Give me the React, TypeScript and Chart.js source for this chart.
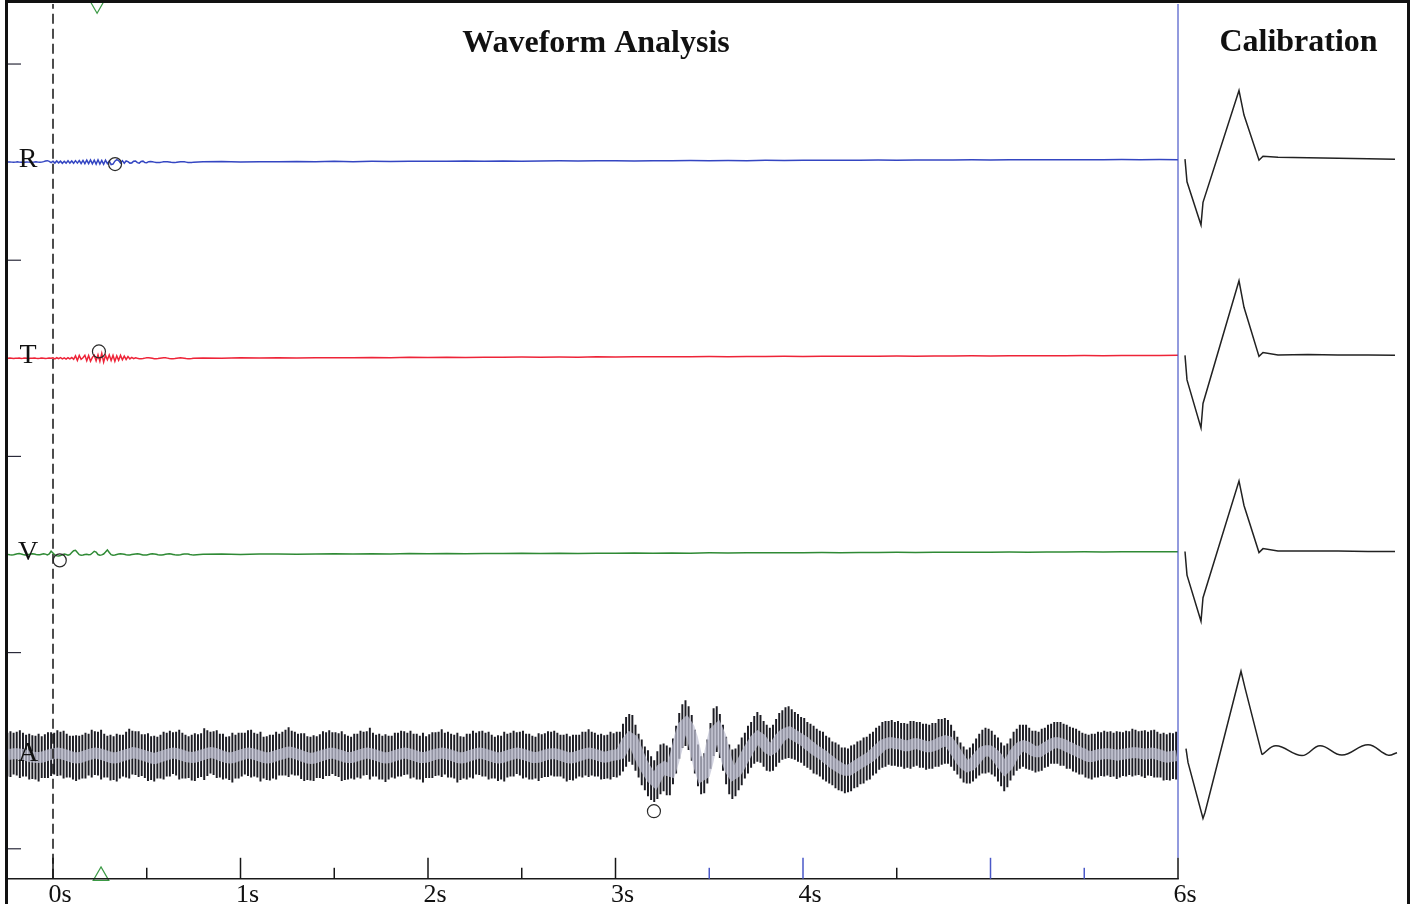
import React, { useEffect, useRef } from "react";
import { Chart, registerables } from "chart.js";

Chart.register(...registerables);

// ---------- axes ----------
const timeMin = -0.24;
const timeMax = 6;
const timeAxisMax = 7.2213; // right edge of calibration panel on the time axis
const calAxisMin = -1170;
const calAxisMax = 229;
const yMin = -3.06;
const yMax = 86.12;
const xTickValues = [0, 1, 2, 3, 4, 6];
const xTickLabels = ["0s", "1s", "2s", "3s", "4s", "6s"];
const majorTickValues = [0, 1, 2, 3, 4, 5, 6];
const minorTickValues = [0.5, 1.5, 2.5, 3.5, 4.5, 5.5];
const yTickValues = [0, 20, 40, 60, 80];
const mainTitle = "Waveform Analysis";
const calTitle = "Calibration";

// ---------- channels ----------
const channelNames = ["R", "T", "V", "A"];
const channelOffsets = [70, 50, 30, 9.5];

// ---------- R / T / V traces ----------
const traceFineStart = -0.24;
const traceFineStep = 0.01;
const traceCoarseStart = 0.8;
const traceCoarseStep = 0.1;

const rFine = [
  0, 0.02, 0, -0.02, 0, 0.03, 0, -0.02, 0.01, 0,
  0.02, 0, -0.02, 0, 0.01, 0.03, 0, -0.02, 0, 0.05,
  0.12, 0.15, 0.08, -0.05, 0.1, -0.1, 0.12, -0.08, 0.1, -0.12,
  0.08, -0.1, 0.14, -0.1, 0.12, -0.12, 0.15, -0.1, 0.16, -0.14,
  0.18, -0.15, 0.2, -0.16, 0.22, -0.18, 0.2, -0.2, 0.24, -0.2,
  0.18, -0.22, 0.2, -0.15, 0.1, -0.25, -0.2, 0.1, 0.25, 0.15,
  -0.1, 0.15, -0.12, 0.12, 0.05, -0.1, -0.08, 0.1, 0.12, -0.05,
  -0.1, 0.06, 0.1, -0.04, -0.06, 0.05, 0.06, 0.04, 0.0, -0.04,
  -0.05, -0.03, 0.0, 0.03, 0.05, 0.05, 0.02, -0.02, -0.04, -0.05,
  -0.02, 0.01, 0.04, 0.05, 0.03, 0.0, -0.03, -0.04, -0.03, 0.0,
];
const rCoarse = [
  0.03, 0.06, 0.02, 0.05, 0.04, 0.07, 0.04, 0.08, 0.05, 0.08,
  0.07, 0.09, 0.1, 0.08, 0.11, 0.09, 0.12, 0.1, 0.12, 0.13,
  0.11, 0.13, 0.14, 0.12, 0.15, 0.13, 0.16, 0.15, 0.17, 0.15,
  0.18, 0.17, 0.19, 0.18, 0.2, 0.19, 0.21, 0.2, 0.21, 0.22,
  0.21, 0.23, 0.22, 0.23, 0.24, 0.23, 0.25, 0.24, 0.25, 0.26,
  0.24, 0.26, 0.25,
];
const tFine = [
  0, 0.02, 0, -0.02, 0.01, 0, 0.02, -0.01, 0, 0.02,
  0, -0.02, 0, 0.01, 0.02, 0, -0.01, 0, 0.02, 0,
  -0.02, 0, 0.03, 0, 0.05, -0.05, 0.06, -0.04, 0.07, -0.06,
  0.05, -0.08, 0.06, -0.05, 0.08, -0.1, 0.25, -0.22, 0.3, -0.1,
  0.05, 0.3, -0.25, 0.28, -0.3, 0.1, 0.32, -0.25, 0.35, -0.3,
  0.5, -0.38, 0.3, -0.15, 0.35, -0.22, 0.3, -0.3, 0.25, -0.2,
  0.3, -0.15, 0.22, -0.12, 0.18, -0.06, 0.1, -0.04, 0.05, 0.0,
  -0.04, -0.05, -0.02, 0.02, 0.05, 0.06, 0.04, 0.0, -0.04, -0.05,
  -0.03, 0.0, 0.03, 0.05, 0.05, 0.02, -0.02, -0.04, -0.04, -0.02,
  0.01, 0.03, 0.05, 0.04, 0.01, -0.02, -0.04, -0.05, -0.03, 0.0,
];
const tCoarse = [
  0.04, 0.0, 0.05, 0.02, 0.06, 0.03, 0.07, 0.05, 0.06, 0.09,
  0.07, 0.1, 0.08, 0.11, 0.09, 0.12, 0.1, 0.13, 0.12, 0.14,
  0.12, 0.15, 0.13, 0.16, 0.15, 0.17, 0.16, 0.18, 0.17, 0.19,
  0.18, 0.2, 0.19, 0.21, 0.2, 0.22, 0.21, 0.23, 0.22, 0.24,
  0.23, 0.25, 0.24, 0.26, 0.25, 0.27, 0.26, 0.28, 0.27, 0.28,
  0.29, 0.28, 0.3,
];
const vFine = [
  0.0, -0.03, -0.05, -0.02, 0.03, 0.08, 0.1, 0.06, 0.0, -0.05,
  -0.04, 0.0, 0.04, 0.07, 0.05, 0.0, -0.03, -0.02, 0.03, 0.07,
  0.04, -0.04, 0.05, 0.33, 0.15, -0.05, -0.12, -0.14, -0.1, -0.02,
  0.05, 0.0, -0.06, 0.0, 0.2, 0.38, 0.42, 0.2, -0.02, -0.08,
  -0.05, 0.0, 0.02, -0.02, 0.0, 0.15, 0.33, 0.25, 0.0, -0.07,
  -0.04, 0.05, 0.25, 0.47, 0.2, -0.02, -0.08, -0.05, 0.0, 0.04,
  0.07, 0.06, 0.02, -0.03, -0.06, -0.05, -0.01, 0.03, 0.06, 0.07,
  0.04, 0.0, -0.04, -0.06, -0.04, 0.0, 0.04, 0.07, 0.06, 0.02,
  -0.03, -0.06, -0.06, -0.02, 0.02, 0.05, 0.07, 0.05, 0.01, -0.03,
  -0.05, -0.05, -0.02, 0.02, 0.05, 0.06, 0.04, 0.0, -0.03, -0.05,
];
const vCoarse = [
  0.02, 0.05, 0.0, 0.04, 0.06, 0.02, 0.05, 0.07, 0.04, 0.08,
  0.06, 0.09, 0.07, 0.1, 0.08, 0.11, 0.09, 0.12, 0.1, 0.13,
  0.11, 0.14, 0.12, 0.15, 0.13, 0.16, 0.14, 0.17, 0.16, 0.18,
  0.17, 0.19, 0.18, 0.2, 0.19, 0.21, 0.2, 0.22, 0.21, 0.23,
  0.22, 0.24, 0.23, 0.25, 0.24, 0.26, 0.25, 0.27, 0.26, 0.27,
  0.27, 0.28, 0.28,
];

// ---------- A channel: one stripe per 60 Hz cycle ----------
const stripeStart = -0.24;
const stripeRate = 60;
const aCentre = [
  0.1, 0.15, 0.2, 0.2, 0.15, 0.1, 0.0, -0.1, -0.15, -0.2, -0.2, -0.15, -0.05, 0.05, 0.15, 0.2, 0.25, 0.2, 0.1, 0.0, -0.1, -0.2, -0.25, -0.2, -0.1,
  0.0, 0.1, 0.2, 0.25, 0.2, 0.1, 0.0, -0.1, -0.2, -0.25, -0.2, -0.1, 0.0, 0.1, 0.2, 0.3, 0.25, 0.15, 0.05, -0.05, -0.15, -0.25, -0.3, -0.2, -0.1,
  0.0, 0.1, 0.2, 0.25, 0.2, 0.1, 0.0, -0.1, -0.15, -0.2, -0.15, -0.05, 0.05, 0.15, 0.25, 0.3, 0.25, 0.15, 0.0, -0.1, -0.2, -0.25, -0.2, -0.1, 0.0,
  0.1, 0.2, 0.25, 0.2, 0.1, 0.0, -0.1, -0.2, -0.25, -0.2, -0.1, 0.0, 0.1, 0.2, 0.3, 0.35, 0.3, 0.2, 0.1, -0.05, -0.15, -0.25, -0.3, -0.25, -0.15,
  -0.05, 0.05, 0.15, 0.25, 0.25, 0.15, 0.05, -0.05, -0.15, -0.2, -0.2, -0.1, 0.0, 0.1, 0.2, 0.25, 0.2, 0.1, 0.0, -0.1, -0.2, -0.25, -0.2, -0.1, 0.0,
  0.1, 0.2, 0.25, 0.2, 0.1, 0.0, -0.1, -0.2, -0.2, -0.15, -0.05, 0.05, 0.15, 0.2, 0.25, 0.2, 0.1, 0.0, -0.1, -0.2, -0.25, -0.2, -0.1, 0.0, 0.1,
  0.2, 0.25, 0.2, 0.1, 0.0, -0.1, -0.2, -0.25, -0.2, -0.1, 0.0, 0.1, 0.2, 0.25, 0.2, 0.1, 0.0, -0.1, -0.2, -0.2, -0.15, -0.05, 0.05, 0.15, 0.2,
  0.2, 0.1, 0.0, -0.1, -0.2, -0.25, -0.2, -0.1, 0.0, 0.1, 0.2, 0.25, 0.2, 0.1, 0.0, -0.1, -0.15, -0.1, 0.0, 0.05, 0.1, 0.2, 0.8, 1.4, 1.8,
  1.6, 0.8, 0.0, -0.7, -1.3, -1.8, -2.3, -2.6, -2.0, -1.4, -1.2, -1.5, -1.6, -0.6, 0.6, 2.0, 3.0, 3.3, 2.8, 1.8, 0.4, -1.0, -2.0, -1.8, -0.6,
  1.0, 2.4, 2.7, 2.0, 0.8, -0.5, -1.4, -1.9, -1.7, -1.2, -0.6, 0.0, 0.6, 1.1, 1.6, 1.9, 1.7, 1.2, 0.8, 0.6, 0.8, 1.3, 1.8, 2.1, 2.3,
  2.4, 2.2, 2.0, 1.8, 1.6, 1.4, 1.1, 0.9, 0.6, 0.4, 0.2, 0.0, -0.3, -0.5, -0.8, -1.0, -1.2, -1.4, -1.5, -1.5, -1.3, -1.1, -0.9, -0.7, -0.5,
  -0.3, -0.1, 0.2, 0.5, 0.8, 1.1, 1.2, 1.3, 1.3, 1.2, 1.2, 1.1, 1.0, 1.0, 1.1, 1.2, 1.2, 1.1, 1.0, 0.9, 0.9, 1.0, 1.1, 1.3, 1.4,
  1.5, 1.4, 1.0, 0.5, 0.0, -0.5, -0.9, -1.1, -1.0, -0.7, -0.3, 0.1, 0.4, 0.5, 0.5, 0.3, 0.0, -0.4, -0.9, -1.3, -1.0, -0.4, 0.2, 0.6, 0.9,
  1.0, 0.9, 0.7, 0.5, 0.4, 0.4, 0.6, 0.8, 1.0, 1.2, 1.3, 1.3, 1.2, 1.1, 0.9, 0.8, 0.6, 0.5, 0.3, 0.2, 0.0, -0.1, -0.1, 0.0, 0.1,
  0.15, 0.2, 0.2, 0.15, 0.1, 0.05, 0.1, 0.15, 0.2, 0.25, 0.3, 0.3, 0.25, 0.2, 0.15, 0.2, 0.25, 0.2, 0.1, 0.0, -0.1, -0.15, -0.1, -0.05, 0.0,
];
const aHalf = [
  2.2, 2.3, 2.1, 2.2, 2.4, 2.2, 2.1, 2.3, 2.2, 2.2, 2.4, 2.1, 2.2, 2.3, 2.2, 2.1, 2.3, 2.2, 2.4, 2.2, 2.1, 2.2, 2.3, 2.2, 2.2,
  2.3, 2.1, 2.4, 2.2, 2.2, 2.5, 2.2, 2.1, 2.3, 2.2, 2.4, 2.2, 2.1, 2.3, 2.5, 2.2, 2.2, 2.3, 2.1, 2.2, 2.4, 2.2, 2.3, 2.1, 2.2,
  2.4, 2.2, 2.3, 2.1, 2.2, 2.5, 2.3, 2.2, 2.1, 2.3, 2.4, 2.2, 2.2, 2.6, 2.3, 2.1, 2.2, 2.4, 2.2, 2.3, 2.1, 2.2, 2.5, 2.2, 2.3,
  2.2, 2.1, 2.3, 2.4, 2.2, 2.2, 2.5, 2.1, 2.2, 2.3, 2.2, 2.4, 2.1, 2.2, 2.3, 2.5, 2.2, 2.2, 2.1, 2.3, 2.4, 2.2, 2.2, 2.3, 2.1,
  2.2, 2.4, 2.2, 2.3, 2.1, 2.2, 2.2, 2.5, 2.3, 2.2, 2.1, 2.3, 2.2, 2.4, 2.2, 2.2, 2.6, 2.2, 2.1, 2.3, 2.2, 2.4, 2.2, 2.1, 2.3,
  2.2, 2.3, 2.2, 2.1, 2.4, 2.2, 2.3, 2.2, 2.5, 2.1, 2.2, 2.3, 2.2, 2.2, 2.4, 2.1, 2.3, 2.2, 2.2, 2.5, 2.2, 2.1, 2.3, 2.2, 2.4,
  2.1, 2.2, 2.3, 2.2, 2.4, 2.2, 2.1, 2.3, 2.2, 2.5, 2.2, 2.2, 2.3, 2.1, 2.2, 2.4, 2.2, 2.3, 2.2, 2.1, 2.4, 2.2, 2.2, 2.3, 2.2,
  2.3, 2.2, 2.1, 2.2, 2.4, 2.2, 2.3, 2.2, 2.1, 2.3, 2.2, 2.4, 2.2, 2.2, 2.1, 2.3, 2.2, 2.2, 2.4, 2.2, 2.3, 2.2, 2.4, 2.5, 2.4,
  2.5, 2.3, 2.2, 2.3, 2.2, 2.3, 2.2, 2.1, 2.4, 2.5, 2.4, 2.5, 2.4, 2.3, 2.4, 2.3, 2.2, 2.3, 2.2, 2.3, 2.2, 2.1, 1.9, 2.0, 2.2,
  2.3, 2.4, 2.3, 2.2, 2.3, 2.4, 2.5, 2.5, 2.4, 2.3, 2.4, 2.3, 2.4, 2.3, 2.4, 2.5, 2.4, 2.3, 2.3, 2.2, 2.3, 2.4, 2.5, 2.5, 2.6,
  2.6, 2.5, 2.4, 2.4, 2.3, 2.4, 2.3, 2.3, 2.4, 2.3, 2.3, 2.4, 2.3, 2.3, 2.2, 2.3, 2.3, 2.2, 2.3, 2.2, 2.3, 2.2, 2.3, 2.2, 2.3,
  2.2, 2.3, 2.2, 2.3, 2.2, 2.3, 2.3, 2.2, 2.3, 2.2, 2.3, 2.2, 2.3, 2.2, 2.4, 2.3, 2.2, 2.3, 2.2, 2.3, 2.2, 2.3, 2.2, 2.4, 2.3,
  2.3, 2.2, 2.1, 2.0, 1.9, 1.8, 1.8, 1.7, 1.8, 1.9, 2.0, 2.1, 2.2, 2.3, 2.2, 2.2, 2.1, 2.2, 2.2, 2.3, 2.2, 2.1, 2.2, 2.1, 2.2,
  2.1, 2.2, 2.1, 2.0, 2.1, 2.0, 2.1, 2.0, 2.1, 2.0, 2.1, 2.1, 2.2, 2.1, 2.2, 2.1, 2.2, 2.2, 2.2, 2.1, 2.2, 2.2, 2.3, 2.2, 2.3,
  2.2, 2.3, 2.2, 2.3, 2.2, 2.4, 2.3, 2.2, 2.3, 2.2, 2.4, 2.3, 2.2, 2.3, 2.4, 2.2, 2.3, 2.4, 2.3, 2.2, 2.4, 2.3, 2.4, 2.3, 2.4,
];

// ---------- event markers ----------
const circleTimes = [0.331, 0.245, 0.036, 3.205];
const circleValues = [69.8, 50.7, 29.4, 3.83];
const triggerTimes = [0.235, 0.256];
const triggerValues = [86.1, -2.76];
const triggerRotations = [180, 0];

// ---------- calibration pulses (ms) ----------
const calMs = [7, 9, 23, 25, 61, 66, 81, 85, 100, 130, 160, 190, 217];
const calR = [0.3, -2.0, -6.4, -4.1, 7.3, 4.8, 0.2, 0.6, 0.5, 0.45, 0.4, 0.35, 0.3];
const calT = [0.3, -2.2, -7.1, -4.6, 7.9, 5.2, 0.2, 0.6, 0.35, 0.4, 0.35, 0.35, 0.3];
const calV = [0.3, -2.1, -6.8, -4.4, 7.5, 5.0, 0.2, 0.6, 0.35, 0.35, 0.35, 0.3, 0.3];
const calAMs = [8, 10, 25, 27, 63, 67, 84, 98, 124, 142, 164, 190, 210, 219];
const calA = [0.7, -0.7, -6.4, -5.8, 8.6, 6.9, 0.1, 1.0, 0.0, 1.0, 0.05, 1.1, 0.05, 0.3];
const calATailStart = 6;

// ---------- styles ----------
const traceColors = ["#3446c2", "#ee2438", "#2f8a35"];
const majorTickColors = ["#161616", "#161616", "#161616", "#161616", "#4a58c8", "#4a58c8", "#161616"];
const minorTickColors = ["#161616", "#161616", "#161616", "#4a58c8", "#161616", "#4a58c8"];
const serif = '"Liberation Serif", "Times New Roman", serif';

function tracePoints(fine: number[], coarse: number[], offset: number) {
  const pts: { x: number; y: number }[] = [];
  fine.forEach((v, i) => pts.push({ x: traceFineStart + i * traceFineStep, y: offset + v }));
  coarse.forEach((v, j) => {
    const t = traceCoarseStart + j * traceCoarseStep;
    if (t <= timeMax + 1e-6) pts.push({ x: t, y: offset + v });
  });
  return pts;
}

const decorPlugin = {
  id: "decor",
  afterDatasetsDraw(chart: any) {
    const { ctx, chartArea: a, scales } = chart;
    const x = scales.x;
    const y = scales.y;
    const x0 = a.left;
    const x6 = x.getPixelForValue(timeMax);
    const yb = a.bottom;
    ctx.save();
    // divider between record and calibration
    ctx.strokeStyle = "#4a58c8";
    ctx.lineWidth = 1.2;
    ctx.beginPath();
    ctx.moveTo(x6, a.top);
    ctx.lineTo(x6, yb - 21);
    ctx.stroke();
    // time axis line
    ctx.strokeStyle = "#1a1a1a";
    ctx.lineWidth = 1.6;
    ctx.beginPath();
    ctx.moveTo(x0, yb);
    ctx.lineTo(x6 + 0.8, yb);
    ctx.stroke();
    // inner ticks
    ctx.lineWidth = 1.5;
    majorTickValues.forEach((v, k) => {
      const px = x.getPixelForValue(v);
      ctx.strokeStyle = majorTickColors[k];
      ctx.beginPath();
      ctx.moveTo(px, yb);
      ctx.lineTo(px, yb - 21);
      ctx.stroke();
    });
    minorTickValues.forEach((v, k) => {
      const px = x.getPixelForValue(v);
      ctx.strokeStyle = minorTickColors[k];
      ctx.beginPath();
      ctx.moveTo(px, yb);
      ctx.lineTo(px, yb - 11);
      ctx.stroke();
    });
    ctx.strokeStyle = "#2a2a3a";
    ctx.lineWidth = 1.2;
    yTickValues.forEach((v) => {
      const py = y.getPixelForValue(v);
      ctx.beginPath();
      ctx.moveTo(x0, py);
      ctx.lineTo(x0 + 13, py);
      ctx.stroke();
    });
    // channel letters
    ctx.fillStyle = "#111";
    ctx.textAlign = "center";
    ctx.textBaseline = "alphabetic";
    ctx.font = `28px ${serif}`;
    channelNames.forEach((n, k) => {
      ctx.fillText(n, x0 + 20, y.getPixelForValue(channelOffsets[k]) + 5);
    });
    // titles
    ctx.font = `bold 32px ${serif}`;
    ctx.fillText(mainTitle, (x0 + x6) / 2 + 3, a.top + 48);
    ctx.fillText(calTitle, (x6 + a.right) / 2 + 6, a.top + 47);
    // frame
    ctx.strokeStyle = "#111";
    ctx.lineWidth = 3;
    ctx.beginPath();
    ctx.moveTo(6.5, chart.height + 5);
    ctx.lineTo(6.5, 1.5);
    ctx.lineTo(1408.5, 1.5);
    ctx.lineTo(1408.5, chart.height + 5);
    ctx.stroke();
    ctx.restore();
  },
};

export default function App() {
  const ref = useRef<HTMLCanvasElement>(null);

  useEffect(() => {
    document.body.style.margin = "0";
    const aOffset = channelOffsets[3];
    const n = Math.min(aCentre.length, aHalf.length);
    const stripes: { x: number; y: number[] }[] = [];
    const centre: { x: number; y: number }[] = [];
    for (let i = 0; i < n; i++) {
      const t = stripeStart + i / stripeRate;
      if (t > timeMax + 1e-6) break;
      stripes.push({ x: t, y: [aOffset + aCentre[i] - aHalf[i], aOffset + aCentre[i] + aHalf[i]] });
      centre.push({ x: t, y: aOffset + aCentre[i] });
    }
    const calPts = (vals: number[], ms: number[], off: number) =>
      vals.map((v, i) => ({ x: ms[i], y: off + v }));
    const calAAll = calPts(calA, calAMs, aOffset);

    const lineBase = { pointRadius: 0, borderWidth: 1.5, tension: 0, fill: false };

    const datasets: any[] = [
      {
        type: "bar",
        label: "A",
        data: stripes,
        backgroundColor: "#1d1d24",
        borderWidth: 0,
        barThickness: 1.3,
        order: 5,
      },
      {
        type: "line",
        label: "A trend",
        data: centre,
        borderColor: "rgba(192,194,212,0.72)",
        borderWidth: 11,
        pointRadius: 0,
        tension: 0,
        order: 4,
      },
      { type: "line", label: "R", data: tracePoints(rFine, rCoarse, channelOffsets[0]), borderColor: traceColors[0], ...lineBase, order: 3 },
      { type: "line", label: "T", data: tracePoints(tFine, tCoarse, channelOffsets[1]), borderColor: traceColors[1], ...lineBase, order: 3 },
      { type: "line", label: "V", data: tracePoints(vFine, vCoarse, channelOffsets[2]), borderColor: traceColors[2], ...lineBase, order: 3 },
      {
        type: "line",
        label: "zero",
        data: [{ x: 0, y: yMin }, { x: 0, y: yMax }],
        borderColor: "#111",
        borderWidth: 1.5,
        borderDash: [10, 5],
        pointRadius: 0,
        order: 3,
      },
      { type: "line", label: "cal R", xAxisID: "xc", data: calPts(calR, calMs, channelOffsets[0]), borderColor: "#222", ...lineBase, order: 3 },
      { type: "line", label: "cal T", xAxisID: "xc", data: calPts(calT, calMs, channelOffsets[1]), borderColor: "#222", ...lineBase, order: 3 },
      { type: "line", label: "cal V", xAxisID: "xc", data: calPts(calV, calMs, channelOffsets[2]), borderColor: "#222", ...lineBase, order: 3 },
      { type: "line", label: "cal A", xAxisID: "xc", data: calAAll.slice(0, calATailStart + 1), borderColor: "#222", ...lineBase, order: 3 },
      { type: "line", label: "cal A tail", xAxisID: "xc", data: calAAll.slice(calATailStart), borderColor: "#222", ...lineBase, tension: 0.4, order: 3 },
      {
        type: "line",
        label: "picks",
        data: circleTimes.map((t, i) => ({ x: t, y: circleValues[i] })),
        showLine: false,
        pointStyle: "circle",
        pointRadius: 6.5,
        borderColor: "#2a2a2a",
        backgroundColor: "rgba(0,0,0,0)",
        borderWidth: 1.2,
        clip: false,
        order: 0,
      },
      {
        type: "line",
        label: "trigger",
        data: triggerTimes.map((t, i) => ({ x: t, y: triggerValues[i] })),
        showLine: false,
        pointStyle: "triangle",
        pointRadius: 9,
        pointRotation: triggerRotations,
        borderColor: "#3c9a46",
        backgroundColor: "rgba(0,0,0,0)",
        borderWidth: 1.2,
        clip: false,
        order: 0,
      },
    ];

    const chart = new Chart(ref.current as HTMLCanvasElement, {
      type: "line",
      data: { datasets },
      options: {
        animation: false,
        responsive: false,
        events: [],
        layout: { autoPadding: false, padding: { left: 8, right: 5, top: 4, bottom: 0 } },
        plugins: { legend: { display: false }, tooltip: { enabled: false }, title: { display: false } },
        scales: {
          x: {
            type: "linear",
            min: timeMin,
            max: timeAxisMax,
            offset: false,
            bounds: "data",
            grid: { display: false, drawTicks: false, offset: false },
            border: { display: false },
            afterBuildTicks: (scale: any) => {
              scale.ticks = xTickValues.map((v) => ({ value: v }));
            },
            ticks: {
              autoSkip: false,
              maxRotation: 0,
              padding: 1,
              labelOffset: 7,
              color: "#111",
              font: { family: serif, size: 26 },
              callback: (value: any) => xTickLabels[xTickValues.indexOf(Number(value))] ?? "",
            },
          },
          xc: {
            type: "linear",
            display: false,
            min: calAxisMin,
            max: calAxisMax,
          },
          y: {
            type: "linear",
            display: false,
            min: yMin,
            max: yMax,
          },
        },
      } as any,
      plugins: [decorPlugin],
    });
    return () => chart.destroy();
  }, []);

  return (
    <div style={{ position: "fixed", left: 0, top: 0, width: 1412, height: 904, overflow: "hidden", background: "#fff" }}>
      <canvas ref={ref} width={1412} height={912} style={{ display: "block" }} />
    </div>
  );
}
